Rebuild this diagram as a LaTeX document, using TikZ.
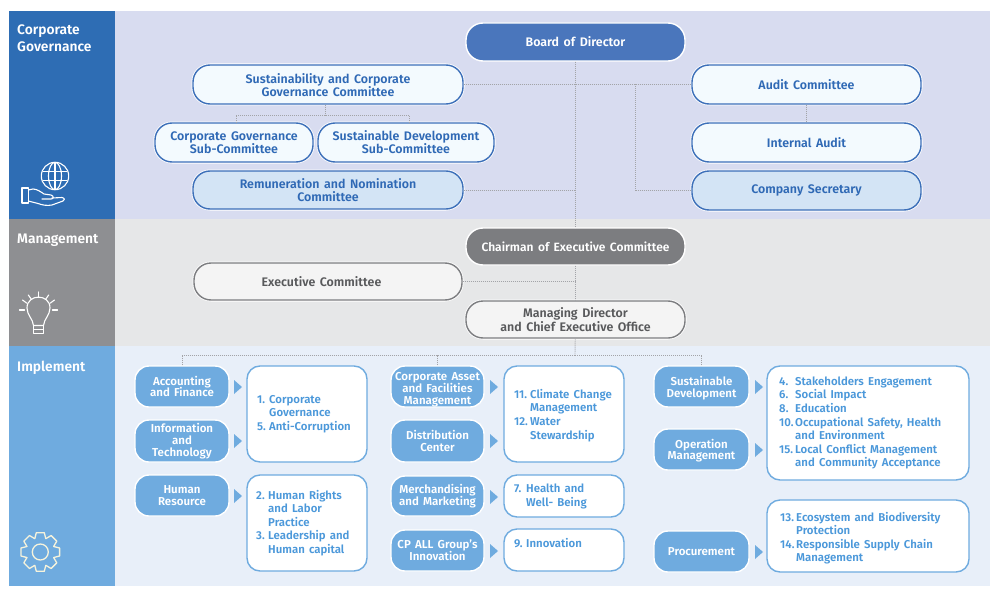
\documentclass[tikz,border=0pt]{standalone}
\usepackage{fontspec}
\setmainfont{Fira Sans}[BoldFont={Fira Sans SemiBold},WordSpace=1.5]
\usetikzlibrary{calc}
\definecolor{cgside}{HTML}{2E6DB4}\definecolor{cgbg}{HTML}{D8DCF0}
\definecolor{mgside}{HTML}{8E8F92}\definecolor{mgbg}{HTML}{E6E7E8}
\definecolor{imside}{HTML}{6FABDF}\definecolor{imbg}{HTML}{E8EFF9}
\definecolor{pilltxt}{HTML}{2F69B5}\definecolor{pillline}{HTML}{3C6FB9}
\definecolor{paleA}{HTML}{F3FAFE}\definecolor{paleB}{HTML}{D3E4F5}\definecolor{paleW}{HTML}{F4F4F4}
\definecolor{boardc}{HTML}{4A76BC}\definecolor{chairc}{HTML}{7C7D80}
\definecolor{greytxt}{HTML}{58595B}\definecolor{listtxt}{HTML}{4B98DA}
\definecolor{dotc}{HTML}{A3A4A8}\definecolor{gearc}{HTML}{F6F3DC}
\tikzset{
  x=1pt,y=-1pt,
  box/.style n args={4}{minimum width={(#3-#1)*1pt},minimum height={(#4-#2)*1pt},at={({(#1+#3)/2},{(#2+#4)/2})}},
  basenode/.style={rectangle,inner sep=0pt,align=center,font=\fontsize{12.4}{13}\selectfont\bfseries},
  pill/.style={basenode,rounded corners=17pt,line width=1.4pt,preaction={draw=white,line width=3pt}},
  cgpill/.style={pill,draw=pillline,fill=paleA,text=pilltxt},
  cgpillb/.style={pill,draw=pillline,fill=paleB,text=pilltxt},
  darkpill/.style={basenode,rounded corners=17pt,draw=white,line width=1.4pt,text=white},
  mgpill/.style={pill,draw=chairc,fill=paleW,text=greytxt},
  impill/.style={basenode,rounded corners=14pt,draw=white,line width=1.4pt,fill=imside,text=white,font=\fontsize{11.5}{11.8}\selectfont\bfseries},
  listbox/.style={rectangle,rounded corners=13pt,draw=imside,line width=1.4pt,fill=white},
  listtext/.style={anchor=north west,inner sep=0pt,align=left,text=listtxt,font=\fontsize{11.4}{13.6}\selectfont\bfseries},
  sidehead/.style={anchor=north west,inner sep=0pt,align=left,text=white,font=\fontsize{13.8}{17.5}\selectfont\bfseries},
  dotline/.style={draw=dotc,line width=0.9pt,dash pattern=on 1pt off 1pt},
  arrowtri/.style={fill=imside,draw=none},
  icon/.style={draw=white,line width=1.1pt,line cap=round,line join=round},
  gearline/.style={draw=gearc,line width=1.3pt,line join=round,line cap=round},
}
\newlength\numw
\newcommand\numitem[2]{\makebox[\numw][l]{#1}#2}
\begin{document}
\begin{tikzpicture}
\useasboundingbox (0,0) rectangle (1000,599);
\fill[white] (0,0) rectangle (1000,599);
% bands
\fill[cgbg] (114,11) rectangle (990,219);
\fill[mgbg] (114,219) rectangle (990,346);
\fill[imbg] (114,346) rectangle (990,585.5);
\fill[cgside] (9,11) rectangle (114.5,219);
\fill[mgside] (9,219) rectangle (114.5,346);
\fill[imside] (9,346) rectangle (114.5,585.5);
\node[sidehead] (hcg) at (17,24.5) {Corporate\\Governance};
\node[sidehead] (hmg) at (17,233.5) {Management};
\node[sidehead] (him) at (17,361) {Implement};
% nodes
\node[darkpill,fill=boardc,box={466}{23}{685}{61}] (board) {Board of Director};
\node[cgpill,box={193}{65}{463}{104}] (sust) {{}\\[-2pt]Sustainability and Corporate\\Governance Committee};
\node[cgpill,box={155}{123}{313}{162}] (cgsub) {Corporate Governance\\Sub-Committee};
\node[cgpill,box={318}{123}{494}{162}] (sdsub) {Sustainable Development\\Sub-Committee};
\node[cgpillb,box={193}{171}{463}{209}] (remu) {Remuneration and Nomination\\Committee};
\node[cgpill,box={692}{65}{921}{104}] (audit) {Audit Committee};
\node[cgpill,box={692}{123}{921}{162}] (inta) {Internal Audit};
\node[cgpillb,box={692}{171}{921}{210}] (secr) {Company Secretary};
\node[darkpill,fill=chairc,box={466}{228}{685}{265},font=\fontsize{12}{13}\selectfont\bfseries] (chair) {Chairman of Executive Committee};
\node[mgpill,box={194}{263}{462}{300}] (exec) {Executive Committee\hspace*{13pt}};
\node[mgpill,box={466}{301}{685}{338}] (md) {Managing Director\\[1pt]and Chief Executive Office};
% implement pills
\node[impill,box={135}{366}{229}{407}] (acc) {Accounting\\and Finance};
\node[impill,box={135}{420}{229}{462}] (info) {Information\\and\\Technology};
\node[impill,box={135}{475}{229}{516}] (hr) {Human\\Resource};
\node[impill,box={391}{366}{484}{407}] (asset) {{}\\[2.7pt]Corporate Asset\\and Facilities\\Management};
\node[impill,box={391}{420}{484}{462}] (dist) {Distribution\\Center};
\node[impill,box={391}{476}{484}{516}] (merch) {Merchandising\\and Marketing};
\node[impill,box={391}{530}{484}{571}] (cpall) {CP ALL Group's\\Innovation};
\node[impill,box={654}{366}{749}{407}] (sdev) {{}\\[0.7pt]Sustainable\\Development};
\node[impill,box={654}{429}{749}{470}] (oper) {{}\\[-0.3pt]Operation\\Management};
\node[impill,box={654}{531}{749}{572}] (proc) {Procurement};
% list boxes
\node[listbox,box={247}{366}{367}{462}] (b1) {};
\node[listbox,box={247}{475}{367}{571}] (b2) {};
\node[listbox,box={504}{366}{624}{462}] (b3) {};
\node[listbox,box={504}{475}{624}{517}] (b4) {};
\node[listbox,box={504}{529}{624}{571}] (b5) {};
\node[listbox,box={767}{366}{969}{480}] (b6) {};
\node[listbox,box={767}{500}{969}{572}] (b7) {};
\node[listtext] (t1) at (257,395) {\global\setlength\numw{12pt}\numitem{1.}{Corporate}\\\numitem{}{Governance}\\\numitem{5.}{Anti-Corruption}};
\node[listtext] (t2) at (256,489.7) {\global\setlength\numw{12pt}\numitem{2.}{Human Rights}\\\numitem{}{and Labor}\\\numitem{}{Practice}\\\numitem{3.}{Leadership and}\\\numitem{}{Human capital}};
\node[listtext] (t3) at (514,389) {\global\setlength\numw{16pt}\numitem{11.}{Climate Change}\\\numitem{}{Management}\\\numitem{12.}{Water}\\\numitem{}{Stewardship}};
\node[listtext] (t4) at (514,484) {\global\setlength\numw{12pt}\numitem{7.}{Health and}\\\numitem{}{Well- Being}};
\node[listtext] (t5) at (514,538.5) {\global\setlength\numw{12pt}\numitem{9.}{Innovation}};
\node[listtext] (t6) at (779,376.5) {\global\setlength\numw{16pt}\numitem{4.}{Stakeholders Engagement}\\\numitem{6.}{Social Impact}\\\numitem{8.}{Education}\\\numitem{10.}{Occupational Safety, Health}\\\numitem{}{and Environment}\\\numitem{15.}{Local Conflict Management}\\\numitem{}{and Community Acceptance}};
\node[listtext] (t7) at (780,511.8) {\global\setlength\numw{16pt}\numitem{13.}{Ecosystem and Biodiversity}\\\numitem{}{Protection}\\\numitem{14.}{Responsible Supply Chain}\\\numitem{}{Management}};
% connectors
\coordinate (jsec) at (635,84.5);
\coordinate (jsust) at (325,115);
\coordinate (jcg) at (236,123);
\coordinate (jsd) at (409,123);
\coordinate (bus) at (575,355);
\draw[dotline] (board) -- (chair);
\draw[dotline] (chair) -- (md);
\draw[dotline] (md) -- (bus);
\draw[dotline] (sust.east) -- (audit.west);
\draw[dotline] (remu.east) -- (remu.east -| board.south);
\draw[dotline] (secr.west) -| (jsec);
\draw[dotline] (audit) -- (inta);
\draw[dotline] (exec.east) -- (exec.east -| chair.south);
\draw[dotline] (jsust |- sust.south) -- (jsust);
\draw[dotline] (jcg) |- (jsust);
\draw[dotline] (jsd) |- (jsust);
\draw[dotline] (acc.north) |- (bus);
\draw[dotline] (sdev.north) |- (bus);
\draw[dotline] (asset.north) -- (asset.north |- bus);
% triangles
\foreach \tx/\ty in {234/387,234/441,234/496,490/387,490/441,490/497,490/551,755/387,755/450,755/552}
  \fill[arrowtri] (\tx,\ty-7) -- (\tx+8,\ty) -- (\tx,\ty+7) -- cycle;
% globe and hand icon
\draw[icon] (55,176) circle (13.7);
\draw[icon] (55,176) ellipse (6.5 and 13.7);
\draw[icon] (55,162.3) -- (55,189.7);
\draw[icon] (43.5,171.5) -- (66.5,171.5);
\draw[icon] (43.5,180.5) -- (66.5,180.5);
\draw[icon] (22,188) -- (28.3,188) -- (28.3,203) -- (22,203) -- cycle;
\draw[icon] (28.3,190) -- (33,189) .. controls (37,189) and (41,192) .. (44,194) -- (51,195) .. controls (54,196) and (54,199) .. (51,199) -- (42,199);
\draw[icon] (52,198) -- (62,197.5) .. controls (65,198) and (65,200.5) .. (63,201) -- (52,205) .. controls (47,206) and (42,205) .. (38,203.5) -- (28.3,201);
% bulb icon
\draw[icon] (33.5,325.5) .. controls (33,319) and (27,315) .. (27,308) .. controls (27,293.5) and (50,293.5) .. (50,308) .. controls (50,315) and (44,319) .. (43.5,325.5) -- cycle;
\draw[icon] (33.5,325.5) rectangle (43.5,333.5);
\draw[icon] (34,329.5) -- (43,329.5);
\draw[icon] (38.5,292) -- (38.5,297.5);
\draw[icon] (28.3,295) -- (31.5,299.5);
\draw[icon] (48.7,295) -- (45.5,299.5);
\draw[icon] (22.5,300) -- (27,303.3);
\draw[icon] (54.5,300) -- (50,303.3);
\draw[icon] (19.5,310) -- (24.5,310);
\draw[icon] (52.5,310) -- (57.5,310);
% gear icon
\begin{scope}[shift={(40.3,552)}]
\foreach \a in {0,45,...,315}
  \draw[gearline,rotate=\a] (-5.5,-13.4) -- (-4,-19.3) -- (4,-19.3) -- (5.5,-13.4);
\draw[gearline] (0,0) circle (8);
\end{scope}
\end{tikzpicture}
\end{document}
